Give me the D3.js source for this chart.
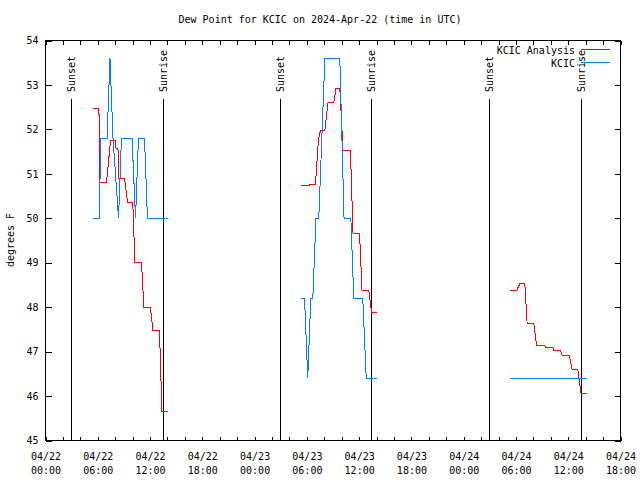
<!DOCTYPE html>
<html><head><meta charset="utf-8">
<script src="https://cdn.jsdelivr.net/npm/d3@7"></script>
<style>html,body{margin:0;padding:0;background:#fff}svg{display:block}</style>
</head><body><svg id="c" width="640" height="480"></svg>
<script>
// ---- data ----
const chartTitle = "Dew Point for KCIC on 2024-Apr-22 (time in UTC)";
const yAxisLabel = "degrees F";
const xStart = "2024-04-22 00:00";
const xEnd = "2024-04-24 18:00";
const yTicks = [45, 46, 47, 48, 49, 50, 51, 52, 53, 54];
const seriesNames = ["KCIC Analysis", "KCIC"];

// KCIC Analysis (null = gap)
const analysisTimes = [
  "2024-04-22 05:24","2024-04-22 06:08","2024-04-22 06:15","2024-04-22 07:00","2024-04-22 07:28",
  "2024-04-22 08:00","2024-04-22 08:06","2024-04-22 08:19","2024-04-22 08:26","2024-04-22 09:04",
  "2024-04-22 09:25","2024-04-22 10:01","2024-04-22 10:16","2024-04-22 11:01","2024-04-22 11:18",
  "2024-04-22 12:03","2024-04-22 12:20","2024-04-22 13:05","2024-04-22 13:22","2024-04-22 14:07",
  "2024-04-22 18:00",
  "2024-04-23 05:23","2024-04-23 06:20","2024-04-23 06:21","2024-04-23 06:59","2024-04-23 07:20",
  "2024-04-23 07:34","2024-04-23 08:04","2024-04-23 08:26","2024-04-23 09:06","2024-04-23 09:21",
  "2024-04-23 09:47","2024-04-23 10:09","2024-04-23 11:00","2024-04-23 11:18","2024-04-23 12:03",
  "2024-04-23 12:20","2024-04-23 13:07","2024-04-23 13:25","2024-04-23 14:04",
  "2024-04-23 18:00",
  "2024-04-24 05:22","2024-04-24 06:04","2024-04-24 06:27","2024-04-24 07:01","2024-04-24 07:17",
  "2024-04-24 08:03","2024-04-24 08:22","2024-04-24 09:17","2024-04-24 09:24","2024-04-24 10:14",
  "2024-04-24 10:21","2024-04-24 11:07","2024-04-24 11:18","2024-04-24 12:07","2024-04-24 12:27",
  "2024-04-24 13:06","2024-04-24 13:29","2024-04-24 14:06"
];
const analysisValues = [
  52.46,52.46,50.80,50.80,51.75,
  51.75,51.57,51.57,50.90,50.90,
  50.36,50.36,49.01,49.01,47.99,
  47.99,47.48,47.48,45.65,45.65,
  null,
  50.73,50.73,50.76,50.76,51.77,
  51.98,51.98,52.61,52.61,52.93,
  52.93,51.53,51.53,49.65,49.65,
  48.37,48.37,47.89,47.89,
  null,
  48.37,48.37,48.53,48.53,47.63,
  47.63,47.14,47.14,47.10,47.10,
  47.03,47.03,46.91,46.91,46.59,
  46.59,46.05,46.05
];

// KCIC observations
const obsTimes = [
  "2024-04-22 05:24","2024-04-22 06:12","2024-04-22 06:19","2024-04-22 07:04","2024-04-22 07:24",
  "2024-04-22 07:45","2024-04-22 08:23","2024-04-22 08:43","2024-04-22 09:56","2024-04-22 10:20",
  "2024-04-22 10:40","2024-04-22 11:22","2024-04-22 11:42","2024-04-22 14:07",
  "2024-04-22 18:00",
  "2024-04-23 05:23","2024-04-23 05:44","2024-04-23 06:06","2024-04-23 06:27","2024-04-23 06:41",
  "2024-04-23 07:03","2024-04-23 07:22","2024-04-23 08:04","2024-04-23 09:47","2024-04-23 10:16",
  "2024-04-23 11:03","2024-04-23 11:23","2024-04-23 12:25","2024-04-23 12:49","2024-04-23 14:04",
  "2024-04-23 18:00",
  "2024-04-24 05:22","2024-04-24 14:06"
];
const obsValues = [
  50.0,50.0,51.8,51.8,53.6,
  51.8,50.0,51.8,51.8,50.0,
  51.8,51.8,50.0,50.0,
  null,
  48.2,48.2,46.4,48.2,48.2,
  50.0,50.0,53.6,53.6,50.0,
  50.0,48.2,48.2,46.4,46.4,
  null,
  46.4,46.4
];

const sunLabels = ["Sunset","Sunrise","Sunset","Sunrise","Sunset","Sunrise"];
const sunTimes = ["2024-04-22 02:54","2024-04-22 13:28","2024-04-23 02:55","2024-04-23 13:25","2024-04-24 02:57","2024-04-24 13:26"];

// ---- drawing ----
const parse = d3.utcParse("%Y-%m-%d %H:%M");
const fmtDate = d3.utcFormat("%m/%d");
const fmtTime = d3.utcFormat("%H:%M");
const FONT = "'DejaVu Sans Mono', monospace";
const FS = "10px";

const L = 45, R = 620, T = 40, B = 440;
const svg = d3.select("#c").attr("font-family", FONT).attr("font-size", FS);

const x = d3.scaleUtc().domain([parse(xStart), parse(xEnd)]).range([L + 0.5, R + 0.5]);
const y = d3.scaleLinear().domain([yTicks[0], yTicks[yTicks.length - 1]]).range([B + 0.5, T + 0.5]);

const t0 = x.domain()[0], t1 = x.domain()[1];
const majorTicks = d3.utcHour.every(6).range(t0, d3.utcMinute.offset(t1, 1));
const minorTicks = d3.utcHour.every(2).range(t0, d3.utcMinute.offset(t1, 1));

function clean(g) { g.select(".domain").remove(); g.selectAll("line").attr("stroke", "#000").attr("shape-rendering", "crispEdges"); }

// minor x ticks bottom & top
svg.append("g").attr("transform", `translate(0,${B + 0.5})`)
  .call(d3.axisBottom(x).tickValues(minorTicks).tickSize(-4).tickFormat(""))
  .call(clean);
svg.append("g").attr("transform", `translate(0,${T + 0.5})`)
  .call(d3.axisTop(x).tickValues(minorTicks).tickSize(-4).tickFormat(""))
  .call(clean);

// major x tick labels (two lines)
const xg = svg.append("g").attr("transform", `translate(0,${B + 0.5})`)
  .call(d3.axisBottom(x).tickValues(majorTicks).tickSize(-4).tickFormat(""))
  .call(clean);
xg.selectAll(".tick").each(function (d) {
  const g = d3.select(this);
  g.select("text").remove();
  const t = g.append("text").attr("fill", "#000").attr("text-anchor", "middle")
    .attr("font-family", FONT).attr("font-size", FS);
  t.append("tspan").attr("x", 0).attr("y", 19).text(fmtDate(d));
  t.append("tspan").attr("x", 0).attr("y", 33).text(fmtTime(d));
});

// y axis
const yg = svg.append("g").attr("transform", `translate(${L + 0.5},0)`)
  .call(d3.axisLeft(y).tickValues(yTicks).tickSize(-6).tickPadding(7).tickFormat(d3.format("d")))
  .call(clean);
yg.selectAll("text").attr("fill", "#000").attr("font-family", FONT).attr("font-size", FS);
svg.append("g").attr("transform", `translate(${R + 0.5},0)`)
  .call(d3.axisRight(y).tickValues(yTicks).tickSize(-6).tickFormat(""))
  .call(clean);

// border
svg.append("rect").attr("x", L + 0.5).attr("y", T + 0.5).attr("width", R - L).attr("height", B - T)
  .attr("fill", "none").attr("stroke", "#000").attr("shape-rendering", "crispEdges");

// sunrise / sunset
sunTimes.forEach((s, i) => {
  const xx = Math.round(x(parse(s))) + 0.5;
  svg.append("line").attr("x1", xx).attr("x2", xx).attr("y1", 99).attr("y2", B)
    .attr("stroke", "#000").attr("shape-rendering", "crispEdges");
  svg.append("text").attr("transform", `translate(${xx + 3.5},92) rotate(-90)`)
    .attr("text-anchor", "start").attr("fill", "#000").text(sunLabels[i]);
});

// series
const analysis = analysisTimes.map((t, i) => ({ t: parse(t), v: analysisValues[i] }));
const obs = obsTimes.map((t, i) => ({ t: parse(t), v: obsValues[i] }));
const line = d3.line().defined(d => d.v != null).x(d => x(d.t)).y(d => y(d.v));

const colors = ["#ff0000", "#0080ff"];
svg.append("path").datum(analysis).attr("d", line).attr("fill", "none")
  .attr("stroke", colors[0]).attr("stroke-width", 1).attr("shape-rendering", "crispEdges");
svg.append("path").datum(obs).attr("d", line).attr("fill", "none")
  .attr("stroke", colors[1]).attr("stroke-width", 1).attr("shape-rendering", "crispEdges");

// legend
seriesNames.forEach((n, i) => {
  const ly = 49.5 + i * 13;
  svg.append("text").attr("x", 575).attr("y", ly + 4).attr("text-anchor", "end").attr("fill", "#000").text(n);
  svg.append("line").attr("x1", 581).attr("x2", 610).attr("y1", ly).attr("y2", ly)
    .attr("stroke", colors[i]).attr("shape-rendering", "crispEdges");
});

// title and y label
svg.append("text").attr("x", 320).attr("y", 23).attr("text-anchor", "middle").attr("fill", "#000").text(chartTitle);
svg.append("text").attr("transform", "translate(14,240) rotate(-90)").attr("text-anchor", "middle")
  .attr("fill", "#000").text(yAxisLabel);
</script>
</body></html>
